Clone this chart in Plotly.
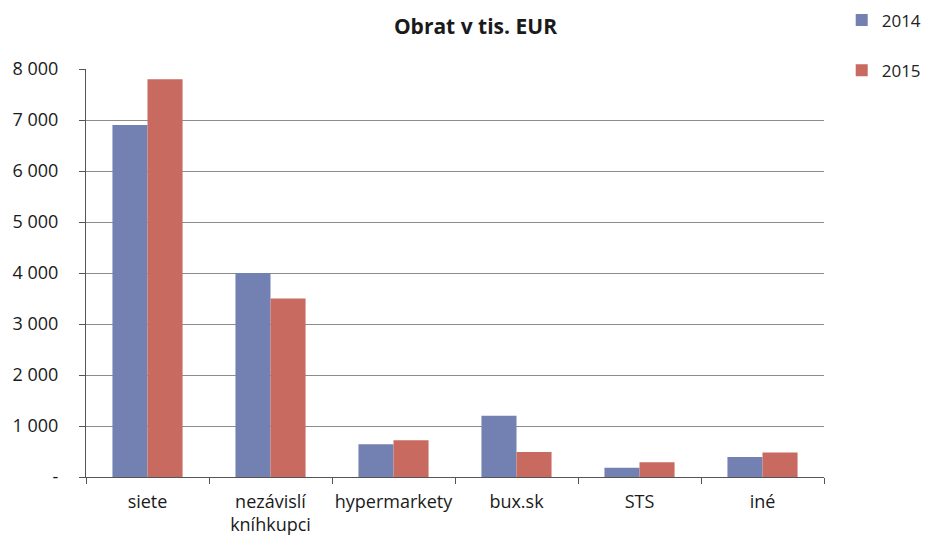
import plotly.graph_objects as go

categories = ["siete", "nezávislí<br>kníhkupci", "hypermarkety", "bux.sk", "STS", "iné"]
values_2014 = [6900, 4000, 640, 1200, 180, 390]
values_2015 = [7800, 3500, 720, 490, 290, 480]
tick_vals = [0, 1000, 2000, 3000, 4000, 5000, 6000, 7000, 8000]
tick_text = ["-", "1 000", "2 000", "3 000", "4 000", "5 000", "6 000", "7 000", "8 000"]

fig = go.Figure()
fig.add_trace(go.Bar(x=categories, y=values_2014, name="2014", marker_color="#7381B2",
                     marker_line_width=0, legendgroup="a"))
fig.add_trace(go.Bar(x=categories, y=values_2015, name="2015", marker_color="#C96A61",
                     marker_line_width=0, legendgroup="b"))

font = "Open Sans, Liberation Sans, sans-serif"
# page body adds an 8px offset; figure sized to fit the 930x538 window
fig.update_layout(
    width=922, height=530,
    margin=dict(l=78, r=106, t=61, b=61, autoexpand=False),
    paper_bgcolor="white", plot_bgcolor="white",
    title=dict(text="<b>Obrat v tis. EUR</b>", x=0.507, xanchor="center", y=0.964, yanchor="middle",
               font=dict(family=font, size=21, color="#1a1a1a")),
    font=dict(family=font, size=18, color="#1a1a1a"),
    bargap=0.43, bargroupgap=0,
    legend=dict(x=1.024, y=1.163, xanchor="left", yanchor="top", tracegroupgap=25,
                font=dict(size=17, color="#222"), bgcolor="rgba(0,0,0,0)"),
    showlegend=True,
)
fig.update_xaxes(showline=True, linecolor="#555", linewidth=1, ticks="outside",
                 tickson="boundaries", ticklen=6, tickcolor="#555", showgrid=False,
                 tickangle=0, tickfont=dict(size=18), ticklabelstandoff=8, automargin=False)
fig.update_yaxes(range=[0, 8000], tickvals=tick_vals, ticktext=tick_text,
                 showline=True, linecolor="#555", linewidth=1, ticks="outside", ticklen=6,
                 tickcolor="#555", showgrid=True, gridcolor="#8c8c8c", gridwidth=1,
                 zeroline=False, tickfont=dict(size=18), ticklabelstandoff=17, automargin=False)

fig.write_html("out.html")
